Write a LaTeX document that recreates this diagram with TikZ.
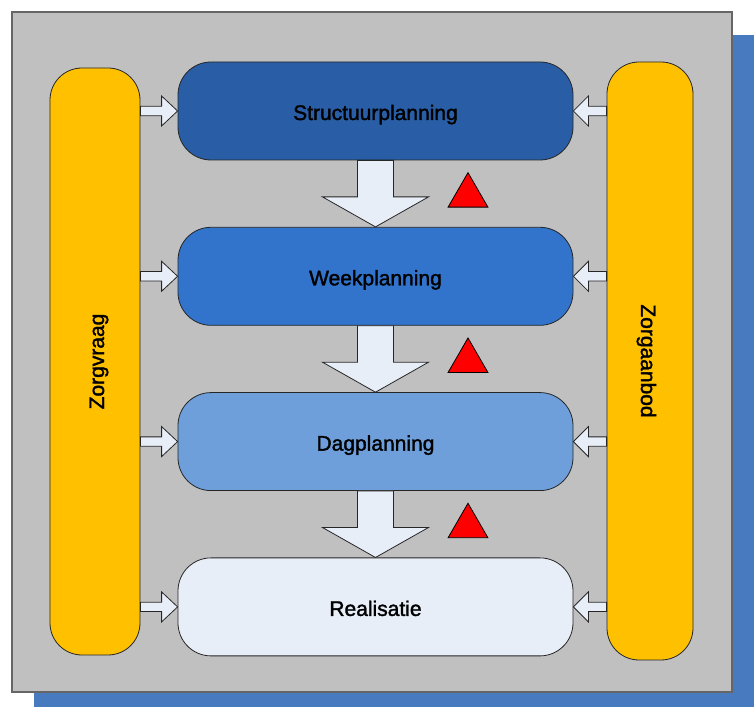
\documentclass[tikz,border=0pt]{standalone}
\usepackage{fontspec}
\setmainfont{Liberation Sans}
\newfontfamily\planfam[FakeBold=1.6]{Liberation Sans}
\usepackage{tikz}
\usetikzlibrary{calc,positioning,shapes.geometric}
\definecolor{schaduw}{RGB}{72,122,192}
\definecolor{achtergrond}{RGB}{192,192,192}
\definecolor{zorggeel}{RGB}{255,192,0}
\definecolor{blauw1}{RGB}{41,94,166}
\definecolor{blauw2}{RGB}{50,116,204}
\definecolor{blauw3}{RGB}{110,159,218}
\definecolor{blauw4}{RGB}{232,238,248}
\definecolor{pijlwit}{RGB}{232,238,248}
\newcommand{\planfont}{\planfam\fontsize{21}{25}\selectfont}

\begin{document}
\begin{tikzpicture}[x=1pt,y=1pt,
		tekst/.style={font=\planfont,text height=22pt,text depth=4pt},
		plan/.style={draw=black!85,line width=0.8pt,rounded corners=33pt,minimum width=395pt,minimum height=98pt,tekst},
		zorg/.style={draw=black!85,line width=0.8pt,fill=zorggeel,rounded corners=32pt},
		pijl/.style={draw=black!85,line width=0.8pt,fill=pijlwit},
		waarsch/.style={draw=black,line width=0.8pt,fill=red,regular polygon,regular polygon sides=3,minimum size=46pt,inner sep=0pt}]
		\useasboundingbox (0,0) rectangle (756,707);
		\fill[schaduw] (34,0) rectangle (754,672);
		\draw[draw=black!60,line width=1.5pt,fill=achtergrond] (12,15) rectangle (732,695);
		\node(s) [plan,fill=blauw1] at (375.5,596) {Structuurplanning};
		\node(w) [plan,fill=blauw2,below=66.5pt of s] {Weekplanning};
		\node(d) [plan,fill=blauw3,below=66.5pt of w] {Dagplanning};
		\node(r) [plan,fill=blauw4,below=66.5pt of d] {Realisatie};
		\node(zv) [zorg,minimum width=90pt,minimum height=587pt,label={[rotate=90,tekst]center:Zorgvraag}] at (95,345.5) {};
		\node(za) [zorg,minimum width=86pt,minimum height=598pt,label={[rotate=-90,tekst]center:Zorgaanbod}] at (650,346) {};
		\foreach \a/\b/\t in {s/w/t1,w/d/t2,d/r/t3} {
			\draw[pijl] ($(\a.south)+(-18,0)$) -- ++(0,-36.5) -- ++(-35,0) -- (\b.north) -- ++(53,30) -- ++(-35,0) -- ($(\a.south)+(18,0)$) -- cycle;
			\node(\t) [waarsch] at ($(\a.south)!0.5!(\b.north)+(92.5,-2)$) {};
		}
		\foreach \p in {s,w,d,r} {
			\draw[pijl] ($(\p.west -| zv.east)+(0,4.7)$) -- ($(\p.west)+(-16,4.7)$) -- ++(0,10.3) -- (\p.west) -- ++(-16,-15) -- ++(0,10.3) -- ($(\p.west -| zv.east)+(0,-4.7)$) -- cycle;
			\draw[pijl] ($(\p.east -| za.west)+(0,4.7)$) -- ($(\p.east)+(15,4.7)$) -- ++(0,10.3) -- (\p.east) -- ++(15,-15) -- ++(0,10.3) -- ($(\p.east -| za.west)+(0,-4.7)$) -- cycle;
		}
	\end{tikzpicture}
\end{document}
